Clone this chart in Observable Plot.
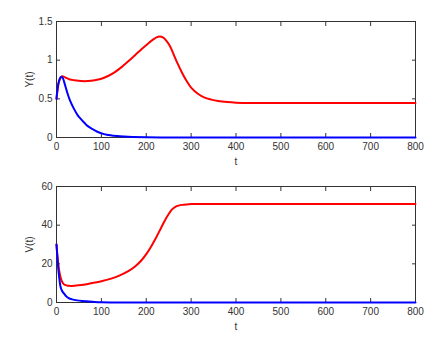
<!DOCTYPE html>
<html>
<head>
<meta charset="utf-8">
<script src="https://cdn.jsdelivr.net/npm/d3@7"></script>
<script src="https://cdn.jsdelivr.net/npm/@observablehq/plot@0.6"></script>
<style>
  html, body { margin: 0; padding: 0; background: #fff; }
  #chart svg { display: block; }
</style>
</head>
<body>
<div id="chart"></div>
<script>
// ---- data ----
const xTicks = [0, 100, 200, 300, 400, 500, 600, 700, 800];
const yTicksTop = [0, 0.5, 1, 1.5];
const yTicksBottom = [0, 20, 40, 60];

// Y(t), red
const tYRed = [0,3,6,9,12,15,20,30,40,55,70,85,100,115,130,145,160,175,190,205,215,223,230,237,245,253,261,270,280,290,300,315,330,345,360,380,400,430,470,550,650,800];
const yRed  = [0.5,0.64,0.73,0.77,0.79,0.79,0.775,0.75,0.74,0.73,0.73,0.74,0.76,0.795,0.845,0.91,0.985,1.065,1.145,1.22,1.265,1.295,1.305,1.295,1.25,1.18,1.075,0.955,0.835,0.73,0.645,0.565,0.515,0.49,0.472,0.458,0.45,0.447,0.445,0.445,0.445,0.445];
// Y(t), blue
const tYBlue = [0,3,6,9,11,14,18,24,30,39,47,54,62,69,80,91,106,120,135,150,170,200,250,300,400,800];
const yBlue  = [0.5,0.66,0.74,0.78,0.785,0.77,0.70,0.58,0.48,0.37,0.29,0.24,0.19,0.15,0.11,0.074,0.044,0.028,0.018,0.012,0.007,0.003,0.001,0,0,0];

// V(t), red
const tVRed = [0,2,4,6,9,12,16,20,25,30,40,55,70,85,100,120,140,160,175,190,200,210,220,230,240,250,258,265,272,280,290,300,320,350,400,500,800];
const vRed  = [30,24,20,16.5,13,11,9.5,9.0,8.7,8.6,8.7,9.0,9.6,10.3,11.0,12.2,13.9,16.2,18.6,22.0,25.0,28.6,32.7,37.2,41.8,45.8,48.3,49.5,50.1,50.5,50.75,50.9,51,51,51,51,51];
// V(t), blue
const tVBlue = [0,1.5,3,5,7,9,12,16,21,27,35,46,57,68,85,100,130,800];
const vBlue  = [30,25,20,15,11,8.2,6.2,4.8,3.4,2.3,1.6,1.1,0.8,0.6,0.3,0.15,0.05,0];

// ---- styling ----
const axisColor = "#333";
const font = "Liberation Sans, Arial, sans-serif";
const fmt = d => String(d);

function toRows(ts, vs) { return ts.map((t, i) => ({t, v: vs[i]})); }

function panel({yDomain, yTicks, yLabel, red, blue, marginTop, marginBottom}) {
  return Plot.plot({
    width: 445,
    height: 169,
    marginLeft: 56,
    marginRight: 30,
    marginTop,
    marginBottom,
    style: {fontFamily: font, fontSize: "10px", color: axisColor, background: "#fff"},
    x: {domain: [0, 800]},
    y: {domain: yDomain},
    marks: [
      Plot.frame({stroke: axisColor, strokeWidth: 1}),
      Plot.axisX(xTicks, {anchor: "bottom", tickSize: -4, tickPadding: 9, tickFormat: fmt, label: "t", labelAnchor: "center", labelArrow: "none", labelOffset: 27, fontSize: 10}),
      Plot.axisX(xTicks, {anchor: "top", tickSize: -4, tickFormat: () => "", label: null}),
      Plot.axisY(yTicks, {anchor: "left", tickSize: -4, tickPadding: 8, tickFormat: fmt, label: yLabel, labelAnchor: "center", labelArrow: "none", labelOffset: 31, fontSize: 10}),
      Plot.axisY(yTicks, {anchor: "right", tickSize: -4, tickFormat: () => "", label: null}),
      Plot.line(red, {x: "t", y: "v", stroke: "#ff0000", strokeWidth: 2, curve: "catmull-rom"}),
      Plot.line(blue, {x: "t", y: "v", stroke: "#0000ff", strokeWidth: 2, curve: "catmull-rom"})
    ]
  });
}

const topPanel = panel({
  yDomain: [0, 1.5], yTicks: yTicksTop, yLabel: "Y(t)",
  red: toRows(tYRed, yRed), blue: toRows(tYBlue, yBlue),
  marginTop: 21, marginBottom: 32
});
const bottomPanel = panel({
  yDomain: [0, 60], yTicks: yTicksBottom, yLabel: "V(t)",
  red: toRows(tVRed, vRed), blue: toRows(tVBlue, vBlue),
  marginTop: 17, marginBottom: 36
});
document.getElementById("chart").append(topPanel, bottomPanel);
</script>
</body>
</html>
